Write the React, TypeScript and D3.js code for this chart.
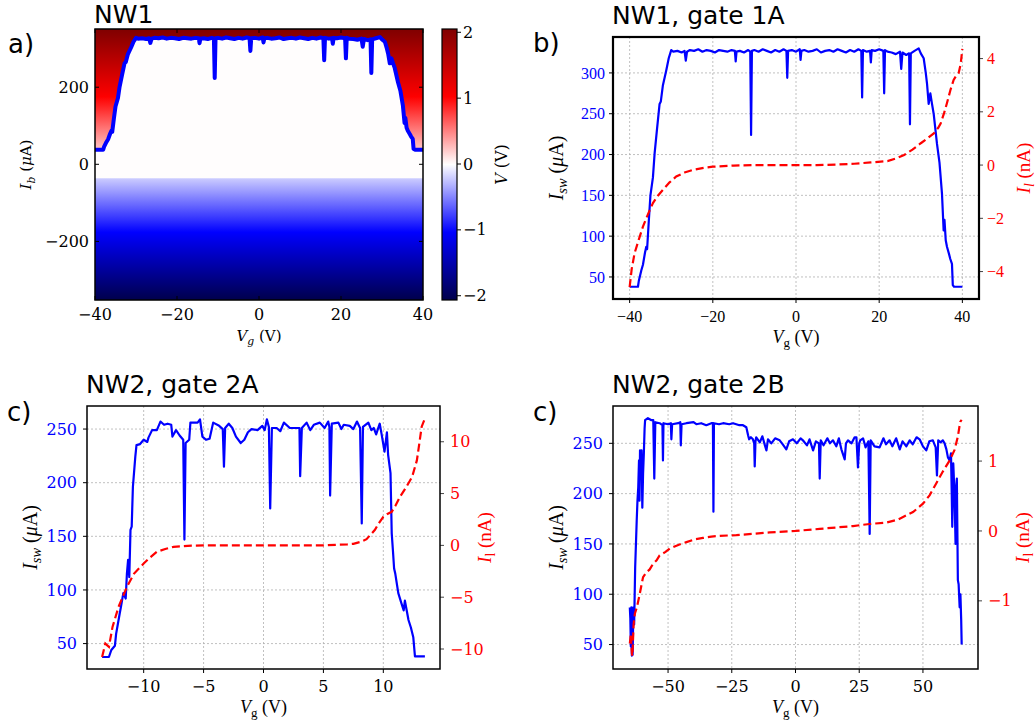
import React from "react";
import * as d3 from "d3";

type Pt = [number, number];

// NW1, gate 1A: switching current (uA) vs gate voltage (V)
const nw1Isw: Pt[] = [
  [-40, 38], [-38, 38], [-37.8, 45], [-37.2, 58], [-36.8, 65], [-36.3, 80], [-36, 87], [-35.8, 84], [-35.4, 118],
  [-35, 150], [-34.4, 172], [-34, 201], [-33.4, 232], [-32.8, 262], [-32.5, 265], [-32, 285], [-31.2, 303],
  [-30.6, 318], [-30, 328], [-29.5, 326], [-28.5, 327], [-27.5, 325], [-26.8, 327], [-26.5, 315], [-26.2, 326],
  [-25.5, 328], [-24.5, 327], [-23.5, 329], [-22.5, 326], [-21.5, 328], [-20.5, 327], [-19.5, 325], [-18.5, 328],
  [-17.5, 327], [-16.5, 326], [-15.5, 328], [-14.7, 327], [-14.5, 314], [-14.3, 326], [-13.5, 327], [-12.5, 325],
  [-11.5, 328], [-11, 326], [-10.8, 224], [-10.6, 327], [-10, 328], [-9, 326], [-8, 329], [-7, 327], [-6, 325],
  [-5, 328], [-4, 326], [-3, 329], [-2.3, 327], [-2.1, 294], [-1.9, 327], [-1, 328], [0, 326], [0.9, 329],
  [1.1, 316], [1.3, 327], [2, 328], [3, 326], [4, 327], [5, 329], [6, 325], [7, 327], [8, 328], [9, 326],
  [10, 329], [11, 327], [12, 325], [13, 328], [14, 326], [15, 329], [15.7, 327], [15.9, 270], [16.1, 328],
  [17, 326], [17.8, 327], [18, 313], [18.2, 328], [19, 327], [20, 329], [21, 327], [21.2, 275], [21.4, 328],
  [22, 326], [23, 325], [24, 323], [25, 326], [25.3, 305], [25.6, 325], [26.5, 322], [27.2, 324], [27.4, 237],
  [27.6, 324], [28.5, 327], [29.5, 330], [30, 324], [30.7, 318], [31.2, 300], [31.5, 287], [31.9, 262],
  [32.3, 275], [32.7, 262], [33.1, 250], [33.9, 213], [34.5, 190], [35.1, 152], [35.5, 107], [35.7, 120],
  [36, 95], [36.3, 87], [36.8, 78], [37.1, 72], [37.5, 66], [37.7, 40], [38, 38], [40, 38],
];

// NW1, gate 1A: leakage current (nA)
const nw1Leak: Pt[] = [
  [-40, -4.58], [-39.5, -3.9], [-38.8, -3.3], [-37.8, -2.8], [-36.8, -2.31], [-35.6, -1.85], [-34.4, -1.43],
  [-33.2, -1.15], [-32, -0.93], [-30.4, -0.65], [-28.8, -0.43], [-26.8, -0.28], [-24.8, -0.18], [-22, -0.1],
  [-20, -0.06], [-15, -0.02], [-10, 0], [-5, 0], [0, 0], [5, 0], [10, 0.02], [14, 0.05], [18, 0.1], [22, 0.15],
  [24, 0.25], [26, 0.38], [28, 0.58], [30, 0.82], [31.6, 1.0], [33.2, 1.2], [34.2, 1.4], [34.8, 1.57],
  [35.6, 1.95], [36.3, 2.33], [37.1, 2.8], [37.9, 3.2], [38.5, 3.35], [39.1, 3.45], [39.6, 3.8], [40, 4.36],
];

// NW2, gate 2A
const nw2aIsw: Pt[] = [
  [-13.47, 37.5], [-12.9, 37.5], [-12.7, 44], [-12.4, 48], [-12.3, 59], [-12, 78], [-11.9, 84], [-11.7, 97],
  [-11.5, 92], [-11.4, 115], [-11.3, 128], [-11.2, 112], [-11.1, 156], [-11, 159], [-10.9, 196], [-10.7, 224],
  [-10.6, 235], [-10.3, 236], [-10, 240], [-9.7, 238], [-9.6, 242], [-9.3, 249], [-8.9, 249], [-8.6, 257],
  [-8.3, 254], [-8, 255], [-7.7, 254], [-7.6, 243], [-7.3, 249], [-7, 244], [-6.7, 240], [-6.6, 147],
  [-6.5, 237], [-6.2, 240], [-6.1, 256], [-5.5, 256], [-5.3, 259], [-5.1, 243], [-4.8, 240], [-4.5, 241],
  [-4.2, 256], [-3.7, 253], [-3.4, 250], [-3.3, 215], [-3.2, 251], [-2.9, 255], [-2.6, 251], [-2.3, 243],
  [-1.9, 237], [-1.6, 240], [-1.3, 247], [-1, 250], [-0.5, 249], [-0.1, 253], [0.1, 249], [0.28, 259],
  [0.45, 252], [0.56, 176], [0.7, 251], [1.1, 251], [1.4, 248], [1.7, 256], [2.2, 251], [2.9, 251], [3.0, 251],
  [3.06, 206], [3.2, 251], [3.6, 256], [3.9, 249], [4.2, 254], [4.7, 256], [5.1, 251], [5.4, 257], [5.5, 252],
  [5.56, 188], [5.7, 255], [6.25, 256], [6.5, 250], [6.7, 254], [7.2, 253], [7.5, 250], [7.8, 257], [8.06, 251],
  [8.2, 162], [8.3, 252], [8.75, 256], [9.0, 249], [9.2, 251], [9.4, 245], [9.7, 255], [9.86, 245], [10.1, 229],
  [10.3, 247], [10.4, 226], [10.6, 209], [10.7, 153], [10.8, 137], [10.9, 120], [11, 115], [11.25, 97],
  [11.5, 88], [11.7, 81], [11.8, 90], [12.1, 72], [12.3, 65], [12.5, 56], [12.64, 38], [13.47, 38],
];

const nw2aLeak: Pt[] = [
  [-13.47, -10.77], [-13.2, -9.48], [-12.9, -9.8], [-12.6, -7.87], [-12.1, -5.94], [-11.4, -4.0], [-10.8, -2.72],
  [-10, -1.75], [-9.5, -1.2], [-8.9, -0.62], [-8.2, -0.35], [-7.5, -0.14], [-6, -0.03], [-5, 0], [0, 0], [5, 0],
  [7, 0.1], [7.5, 0.15], [8.1, 0.34], [8.6, 0.6], [8.9, 0.99], [9.3, 1.5], [9.6, 2.1], [10, 2.76], [10.3, 3.0],
  [10.7, 3.24], [11.0, 3.8], [11.4, 4.7], [11.9, 5.6], [12.4, 6.6], [12.8, 8.2], [13.0, 9.8], [13.2, 11.45],
  [13.47, 12.26],
];

// NW2, gate 2B
const nw2bIsw: Pt[] = [
  [-65, 87], [-64.8, 76], [-64.6, 48], [-64.4, 87], [-64.2, 39], [-63.9, 40], [-63.6, 87], [-63.3, 70],
  [-62.9, 127], [-62.6, 150], [-62.3, 173], [-62, 193], [-61.7, 206], [-61.4, 233], [-61.2, 193], [-61, 243],
  [-60.7, 232], [-60.4, 243], [-60.1, 186], [-59.8, 220], [-59.5, 240], [-59.2, 265], [-59, 273], [-57.9, 275],
  [-56.5, 273], [-55.8, 273], [-55.4, 215], [-55, 271], [-53.3, 270], [-52.2, 268], [-52, 233], [-51.8, 270],
  [-50, 269], [-48.9, 270], [-48.7, 254], [-48.4, 269], [-46, 270], [-45.2, 271], [-45, 248], [-44.7, 269],
  [-42.8, 270], [-40, 271], [-38.9, 269], [-37, 270], [-35, 268], [-33, 270], [-32.4, 270], [-32.2, 182],
  [-32, 270], [-30, 269], [-28.4, 270], [-26, 269], [-24.5, 270], [-22, 268], [-20.6, 268], [-19.3, 266],
  [-18.6, 258], [-18.2, 254], [-17.5, 256], [-16.7, 254], [-16.2, 250], [-16, 227], [-15.7, 252], [-15.4, 256],
  [-14, 251], [-13, 257], [-12, 248], [-11.4, 243], [-10.8, 254], [-9.5, 250], [-8, 255], [-6.2, 253],
  [-5, 249], [-3.6, 244], [-2.5, 252], [-1, 254], [0.5, 250], [2, 255], [2.9, 253], [4.5, 248], [5.5, 254],
  [6.9, 243], [8, 252], [9.2, 250], [9.5, 215], [9.9, 253], [11, 248], [12.5, 255], [13.5, 250], [14.7, 253],
  [16, 247], [17, 255], [18, 244], [19.3, 234], [19.8, 250], [20.6, 253], [22, 250], [23.2, 256], [23.9, 256],
  [24.5, 226], [25, 250], [25.4, 253], [26.5, 255], [27.5, 246], [28.6, 252], [29.1, 160], [29.5, 253],
  [31, 247], [33, 246], [34.5, 255], [35.5, 249], [36.9, 253], [38, 247], [39.5, 255], [40.9, 244], [42, 252],
  [43.5, 247], [44.8, 253], [46, 249], [47.5, 256], [48.7, 254], [50, 247], [51.3, 243], [52.5, 252],
  [53.9, 253], [55, 246], [55.5, 218], [56, 253], [57, 251], [57.8, 253], [58.5, 250], [59.2, 244],
  [59.8, 236], [60.5, 233], [61, 240], [61.3, 200], [61.5, 167], [61.9, 230], [62.4, 198], [62.8, 150],
  [63, 205], [63.3, 215], [63.7, 114], [64, 110], [64.4, 87], [64.7, 100], [65, 75], [65.2, 50],
];

const nw2bLeak: Pt[] = [
  [-65, -1.61], [-64.6, -1.47], [-64.2, -1.75], [-64, -1.79], [-63.5, -1.33], [-63, -1.18], [-62.2, -1.09],
  [-61.1, -0.9], [-60.3, -0.75], [-59.8, -0.66], [-58.5, -0.59], [-57.2, -0.55], [-55.9, -0.47], [-54.5, -0.42],
  [-53.3, -0.35], [-51, -0.3], [-49.3, -0.25], [-46, -0.2], [-42.8, -0.16], [-39.5, -0.12], [-36.3, -0.1],
  [-33, -0.08], [-29.7, -0.07], [-23.2, -0.06], [-16.7, -0.04], [-10.1, -0.02], [0, 0], [9.5, 0.03], [16, 0.05],
  [22.6, 0.07], [29.1, 0.1], [35.6, 0.12], [40, 0.16], [42.2, 0.2], [46.1, 0.27], [50, 0.39], [52.6, 0.51],
  [55.2, 0.68], [57.8, 0.85], [60.5, 1.01], [62.4, 1.16], [63.7, 1.35], [64.6, 1.56], [65.2, 1.59],
];

// panel a colour map (matplotlib "seismic") and normal-state resistance
const seismicStops = ["#00004c", "#0000ff", "#ffffff", "#ff0000", "#800000"];
const vRange: [number, number] = [-2.065, 2.05];
const cbarTicks = [-2, -1, 0, 1, 2];
const retrapCurrent = -36; // uA
const resistance = 0.00587; // V per uA

const BLUE = "#0000ff";
const RED = "#ff0000";
const fmt = (v: number) => String(v).replace("-", "\u2212");

const seismic = d3.scaleLinear<string>().domain([0, 0.25, 0.5, 0.75, 1]).range(seismicStops).interpolate(d3.interpolateRgb).clamp(true);
const vNorm = d3.scaleLinear().domain(vRange).range([0, 1]);

function IswLabel() {
  return (
    <>
      <tspan fontStyle="italic">I</tspan>
      <tspan fontStyle="italic" fontSize="72%" dy="4">sw</tspan>
      <tspan dy="-4"> (</tspan>
      <tspan fontStyle="italic">μ</tspan>
      <tspan>A)</tspan>
    </>
  );
}

function VgLabel({ italicSub }: { italicSub?: boolean }) {
  return (
    <>
      <tspan fontStyle="italic">V</tspan>
      <tspan fontStyle={italicSub ? "italic" : "normal"} fontSize="72%" dy="4">g</tspan>
      <tspan dy="-4"> (V)</tspan>
    </>
  );
}

function LeakLabel({ italicSub }: { italicSub?: boolean }) {
  return (
    <>
      <tspan fontStyle="italic">I</tspan>
      <tspan fontStyle={italicSub ? "italic" : "normal"} fontSize="72%" dy="4">l</tspan>
      <tspan dy="-4"> (nA)</tspan>
    </>
  );
}

type PanelProps = {
  left: number; right: number; top: number; bottom: number;
  xDomain: [number, number]; yDomain: [number, number]; y2Domain: [number, number];
  xTicks: number[]; yTicks: number[]; y2Ticks: number[];
  isw: Pt[]; leak: Pt[];
  title: string; letter: string;
  tickFont: string; frame: number; tickGap: number; serifLabels?: boolean;
};

function DualPanel(p: PanelProps) {
  const x = d3.scaleLinear().domain(p.xDomain).range([p.left, p.right]);
  const y = d3.scaleLinear().domain(p.yDomain).range([p.bottom, p.top]);
  const y2 = d3.scaleLinear().domain(p.y2Domain).range([p.bottom, p.top]);
  const line = d3.line<Pt>().x(d => x(d[0])).y(d => y(d[1]));
  const line2 = d3.line<Pt>().x(d => x(d[0])).y(d => y2(d[1]));
  const cx = (p.left + p.right) / 2;
  const cy = (p.top + p.bottom) / 2;
  const labelFont = "Liberation Serif, DejaVu Serif, serif";
  return (
    <g>
      <text x={p.left - 1} y={p.top - 13} fontFamily="DejaVu Sans" fontSize={25}>{p.title}</text>
      <text x={p.left - 80} y={p.top + 15} fontFamily="DejaVu Sans" fontSize={26}>{p.letter}</text>
      {p.xTicks.map(t => (
        <line key={"gx" + t} x1={x(t)} x2={x(t)} y1={p.top} y2={p.bottom} stroke="#b0b0b0" strokeWidth={0.8} strokeDasharray="2,2" />
      ))}
      {p.yTicks.map(t => (
        <line key={"gy" + t} x1={p.left} x2={p.right} y1={y(t)} y2={y(t)} stroke="#b0b0b0" strokeWidth={0.8} strokeDasharray="2,2" />
      ))}
      <path d={line(p.isw) ?? ""} fill="none" stroke={BLUE} strokeWidth={2.2} strokeLinejoin="round" />
      <path d={line2(p.leak) ?? ""} fill="none" stroke={RED} strokeWidth={2.2} strokeDasharray="8,4" />
      {p.xTicks.map(t => (
        <g key={"tx" + t}>
          <line x1={x(t)} x2={x(t)} y1={p.bottom} y2={p.bottom + 4} stroke="#000" />
          <text x={x(t)} y={p.bottom + 23} textAnchor="middle" fontFamily={p.tickFont} fontSize={16}>{fmt(t)}</text>
        </g>
      ))}
      {p.yTicks.map(t => (
        <g key={"ty" + t}>
          <line x1={p.left - 4} x2={p.left} y1={y(t)} y2={y(t)} stroke="#000" />
          <text x={p.left - p.tickGap} y={y(t)} dy="0.35em" textAnchor="end" fill={BLUE} fontFamily={p.tickFont} fontSize={16}>{fmt(t)}</text>
        </g>
      ))}
      {p.y2Ticks.map(t => (
        <g key={"ty2" + t}>
          <line x1={p.right} x2={p.right + 4} y1={y2(t)} y2={y2(t)} stroke="#444" />
          <text x={p.right + p.tickGap} y={y2(t)} dy="0.35em" textAnchor="start" fill={RED} fontFamily={p.tickFont} fontSize={16}>{fmt(t)}</text>
        </g>
      ))}
      <rect x={p.left} y={p.top} width={p.right - p.left} height={p.bottom - p.top} fill="none" stroke="#000" strokeWidth={p.frame} />
      <text x={cx} y={p.bottom + 44} textAnchor="middle" fontFamily={labelFont} fontSize={18}>
        <VgLabel />
      </text>
      <text transform={`translate(${p.left - 50},${cy}) rotate(-90)`} textAnchor="middle" fontFamily={labelFont} fontSize={20}>
        <IswLabel />
      </text>
      <text transform={`translate(${p.right + 51},${cy}) rotate(-90)`} textAnchor="middle" fill={RED} fontFamily={labelFont} fontSize={19}>
        <LeakLabel italicSub={p.serifLabels} />
      </text>
    </g>
  );
}

function HeatPanel() {
  const left = 95, right = 423, top = 29, bottom = 300;
  const x = d3.scaleLinear().domain([-40, 40]).range([left, right]);
  const y = d3.scaleLinear().domain([-352, 351]).range([bottom, top]);
  const [yMin, yMax] = y.domain();
  const ibSteps = d3.range(0, 41).map(i => yMax - (i / 40) * (yMax - yMin));
  const area = d3.area<Pt>().x(d => x(d[0])).y0(y(retrapCurrent)).y1(d => y(d[1]));
  const line = d3.line<Pt>().x(d => x(d[0])).y(d => y(d[1]));
  const cbLeft = 442, cbRight = 457;
  const cb = d3.scaleLinear().domain(vRange).range([bottom, top]);
  const vSteps = d3.range(0, 41).map(i => vRange[1] - (i / 40) * (vRange[1] - vRange[0]));
  const serif = "DejaVu Serif";
  return (
    <g>
      <defs>
        <linearGradient id="heat" gradientUnits="userSpaceOnUse" x1={0} x2={0} y1={top} y2={bottom}>
          {ibSteps.map((ib, i) => (
            <stop key={i} offset={i / 40} stopColor={seismic(vNorm(ib * resistance))} />
          ))}
        </linearGradient>
        <linearGradient id="cbar" gradientUnits="userSpaceOnUse" x1={0} x2={0} y1={top} y2={bottom}>
          {vSteps.map((v, i) => (
            <stop key={i} offset={i / 40} stopColor={seismic(vNorm(v))} />
          ))}
        </linearGradient>
      </defs>
      <text x={left - 1} y={23} fontFamily="DejaVu Sans" fontSize={25}>NW1</text>
      <text x={8} y={53} fontFamily="DejaVu Sans" fontSize={26}>a)</text>
      <rect x={left} y={top} width={right - left} height={bottom - top} fill="url(#heat)" />
      <path d={area(nw1Isw) ?? ""} fill={seismic(vNorm(0))} />
      <path d={line(nw1Isw) ?? ""} fill="none" stroke={BLUE} strokeWidth={4} strokeLinejoin="round" />
      {[-40, -20, 0, 20, 40].map(t => (
        <g key={"ax" + t}>
          <line x1={x(t)} x2={x(t)} y1={bottom} y2={bottom - 4} stroke="#000" />
          <line x1={x(t)} x2={x(t)} y1={top} y2={top + 4} stroke="#000" />
          <text x={x(t)} y={bottom + 20} textAnchor="middle" fontFamily={serif} fontSize={16}>{fmt(t)}</text>
        </g>
      ))}
      {[-200, 0, 200].map(t => (
        <g key={"ay" + t}>
          <line x1={left} x2={left + 4} y1={y(t)} y2={y(t)} stroke="#000" />
          <line x1={right} x2={right - 4} y1={y(t)} y2={y(t)} stroke="#000" />
          <text x={left - 6} y={y(t)} dy="0.35em" textAnchor="end" fontFamily={serif} fontSize={16}>{fmt(t)}</text>
        </g>
      ))}
      <rect x={left} y={top} width={right - left} height={bottom - top} fill="none" stroke="#000" strokeWidth={1.5} />
      <text x={(left + right) / 2} y={341} textAnchor="middle" fontFamily={serif} fontSize={15}>
        <VgLabel italicSub />
      </text>
      <text transform={`translate(31,${(top + bottom) / 2}) rotate(-90)`} textAnchor="middle" fontFamily={serif} fontSize={15}>
        <tspan fontStyle="italic">I</tspan>
        <tspan fontStyle="italic" fontSize="72%" dy="4">b</tspan>
        <tspan dy="-4"> (</tspan>
        <tspan fontStyle="italic">μ</tspan>
        <tspan>A)</tspan>
      </text>
      <rect x={cbLeft} y={top} width={cbRight - cbLeft} height={bottom - top} fill="url(#cbar)" stroke="#000" strokeWidth={1.2} />
      {cbarTicks.map(t => (
        <g key={"cb" + t}>
          <line x1={cbRight} x2={cbRight + 4} y1={cb(t)} y2={cb(t)} stroke="#000" />
          <text x={cbRight + 6} y={cb(t)} dy="0.35em" fontFamily={serif} fontSize={16}>{fmt(t)}</text>
        </g>
      ))}
      <text transform={`translate(507,${(top + bottom) / 2}) rotate(-90)`} textAnchor="middle" fontFamily={serif} fontSize={16}>
        <tspan fontStyle="italic">V</tspan>
        <tspan> (V)</tspan>
      </text>
    </g>
  );
}

export default function App() {
  return (
    <svg width={1036} height={724} style={{ position: "absolute", left: 0, top: 0, background: "#fff" }}>
      <rect width={1036} height={724} fill="#fff" />
      <HeatPanel />
      <DualPanel
        left={613} right={979} top={37} bottom={299}
        xDomain={[-44, 44]} yDomain={[23, 344]} y2Domain={[-5.03, 4.81]}
        xTicks={[-40, -20, 0, 20, 40]} yTicks={[50, 100, 150, 200, 250, 300]} y2Ticks={[-4, -2, 0, 2, 4]}
        isw={nw1Isw} leak={nw1Leak} title="NW1, gate 1A" letter="b)"
        tickFont="Liberation Serif" frame={2.2} tickGap={8} serifLabels
      />
      <DualPanel
        left={87} right={440} top={406} bottom={669}
        xDomain={[-14.73, 14.73]} yDomain={[26.3, 271.5]} y2Domain={[-11.93, 13.45]}
        xTicks={[-10, -5, 0, 5, 10]} yTicks={[50, 100, 150, 200, 250]} y2Ticks={[-10, -5, 0, 5, 10]}
        isw={nw2aIsw} leak={nw2aLeak} title="NW2, gate 2A" letter="c)"
        tickFont="DejaVu Serif" frame={1.5} tickGap={10}
      />
      <DualPanel
        left={613} right={978} top={406} bottom={669}
        xDomain={[-71.6, 71.6]} yDomain={[25.7, 287.1]} y2Domain={[-1.975, 1.788]}
        xTicks={[-50, -25, 0, 25, 50]} yTicks={[50, 100, 150, 200, 250]} y2Ticks={[-1, 0, 1]}
        isw={nw2bIsw} leak={nw2bLeak} title="NW2, gate 2B" letter="c)"
        tickFont="DejaVu Serif" frame={1.5} tickGap={10}
      />
    </svg>
  );
}
